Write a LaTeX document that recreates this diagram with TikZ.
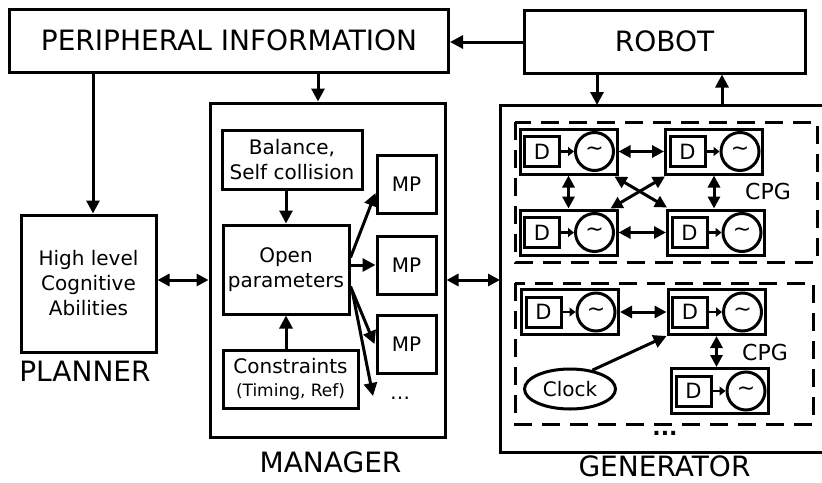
\documentclass[tikz,border=0pt]{standalone}
\usepackage{fontspec}
\setmainfont{DejaVu Sans}
\usetikzlibrary{arrows.meta,shapes.geometric,calc}
\newcommand\cpgunit[2]{%
  \node[box, minimum width=97pt, minimum height=45pt] (#1) at (#2) {};
  \node[box, unitfont, minimum width=35pt, minimum height=30pt] (#1d) at ($(#1.west)+(23.5,0)$) {D};
  \node[box, circle, font=\fontsize{22}{24}\selectfont, minimum size=38pt] (#1c) at ($(#1.east)+(-24,0)$) {\textasciitilde};
  \draw[smallarr] (#1d) -- (#1c);
}
\begin{document}
\begin{tikzpicture}[x=1pt,y=-1pt,
  box/.style={draw, line width=3pt, inner sep=0pt, align=center},
  big/.style={font=\fontsize{28}{34}\selectfont},
  mid/.style={font=\fontsize{20}{25}\selectfont},
  unitfont/.style={font=\fontsize{21}{24}\selectfont},
  arr/.style={line width=3pt, -{Triangle[length=13pt,width=13pt]}},
  dbl/.style={line width=3pt, {Triangle[length=12pt,width=12pt]}-{Triangle[length=12pt,width=12pt]}},
  smallarr/.style={line width=2.8pt, -{Triangle[length=6pt,width=9pt]}},
  dashbox/.style={draw, line width=3pt, dash pattern=on 18pt off 10pt},
  lbl/.style={big, anchor=base, inner sep=0pt}]
\useasboundingbox (0,0) rectangle (822,482);
\clip (0,0) rectangle (822,482);
\fill[white] (0,0) rectangle (822,482);

% top row
\node[box, big, minimum width=439pt, minimum height=63pt] (peri) at (229,40.5) {PERIPHERAL INFORMATION};
\node[box, big, minimum width=281pt, minimum height=63pt] (robot) at (664.5,41.5) {ROBOT};
\draw[arr] (robot.west |- 0,42) -- (peri.east |- 0,42);

% planner
\node[box, mid, minimum width=135pt, minimum height=137pt] (plan) at (88.5,283.5) {High level\\Cognitive\\Abilities};
\node[lbl] (planlbl) at (85,381) {PLANNER};
\draw[arr] (peri.south -| 93,0) -- (plan.north -| 93,0);

% manager
\node[box, minimum width=235pt, minimum height=334pt] (mgr) at (327.5,270) {};
\node[lbl] (mgrlbl) at (330.5,472) {MANAGER};
\node[box, mid, minimum width=140pt, minimum height=59pt] (bal) at (292,159.5) {Balance,\\Self collision};
\node[box, minimum width=135pt, minimum height=58pt, font=\fontsize{20}{24}\selectfont] (con) at (290.5,379)
  {Constraints\\[-1pt]{\fontsize{17}{20}\selectfont (Timing, Ref)}};
\node[box, mid, minimum width=126pt, minimum height=89pt] (open) at (286,269.5) {Open\\parameters};
\node[box, mid, minimum width=59pt, minimum height=58pt] (mp1) at (406.5,184) {MP};
\node[box, mid, minimum width=59pt, minimum height=58pt] (mp2) at (406.5,265) {MP};
\node[box, mid, minimum width=59pt, minimum height=58pt] (mp3) at (406.5,344) {MP};
\node[mid, inner sep=0pt] (mdots) at (400,398) {\ldots};
\coordinate (mdotsin) at (373,396);
\draw[arr] (peri.south -| 318,0) -- (mgr.north -| 318,0);
\draw[arr] (bal.south -| open.north) -- (open.north);
\draw[arr] (con.north -| open.south) -- (open.south);
\draw[arr] ($(open.east)+(0,-12)$) -- ($(mp1.west)+(0,9)$);
\draw[arr] (open.east |- mp2.west) -- (mp2.west);
\draw[arr] ($(open.east)+(0,17)$) -- ($(mp3.west)+(-1,0)$);
\draw[arr] ($(open.east)+(2,23)$) -- (mdotsin);
\draw[dbl] (plan.east |- 0,280) -- (mgr.west |- 0,280);

% generator
\coordinate (gentl) at (500,105);
\coordinate (genbr) at (840,452);
\draw[line width=3pt] (gentl) rectangle (genbr);
\node[lbl] (genlbl) at (664.5,476) {GENERATOR};
\draw[dbl] (mgr.east |- 0,280) -- (gentl |- 0,280);
\draw[arr] (robot.south -| 597,0) -- (gentl -| 597,0);
\draw[arr] (gentl -| 722,0) -- (robot.south -| 722,0);

% CPG 1
\draw[dashbox] (515,122) rectangle (817,262);
\cpgunit{ua}{568.5,151.5}
\cpgunit{ub}{714,151.5}
\cpgunit{uc}{568.5,232.5}
\cpgunit{ud}{716,232.5}
\node[inner sep=0pt, font=\fontsize{22}{26}\selectfont] (cpg1) at (768,191) {CPG};
\draw[dbl] (ua.east) -- (ub.west);
\draw[dbl] (uc.east) -- (ud.west);
\draw[dbl] (ua.south) -- (uc.north);
\draw[dbl] (ub.south) -- (ub.south |- ud.north);
\draw[dbl] ($(ua.south east)+(-4,1)$) -- ($(ud.north west)+(1,-1)$);
\draw[dbl] ($(ub.south west)+(1,1)$) -- ($(uc.north east)+(-8,0)$);

% CPG 2
\draw[dashbox] (515,283) rectangle (813,424);
\cpgunit{va}{570,312}
\cpgunit{vb}{716.5,312}
\cpgunit{vc}{720,391}
\node[box, ellipse, mid, minimum width=91pt, minimum height=40pt] (clock) at (570,389) {Clock};
\node[inner sep=0pt, font=\fontsize{22}{26}\selectfont] (cpg2) at (765,352) {CPG};
\draw[dbl] (va.east) -- (vb.west);
\draw[dbl] (vb.south) -- (vb.south |- vc.north);
\draw[arr] (clock.40) -- (vb.south west);
\node[inner sep=0pt, font=\bfseries\fontsize{22}{26}\selectfont] (gdots) at (665,433) {...};
\end{tikzpicture}
\end{document}
